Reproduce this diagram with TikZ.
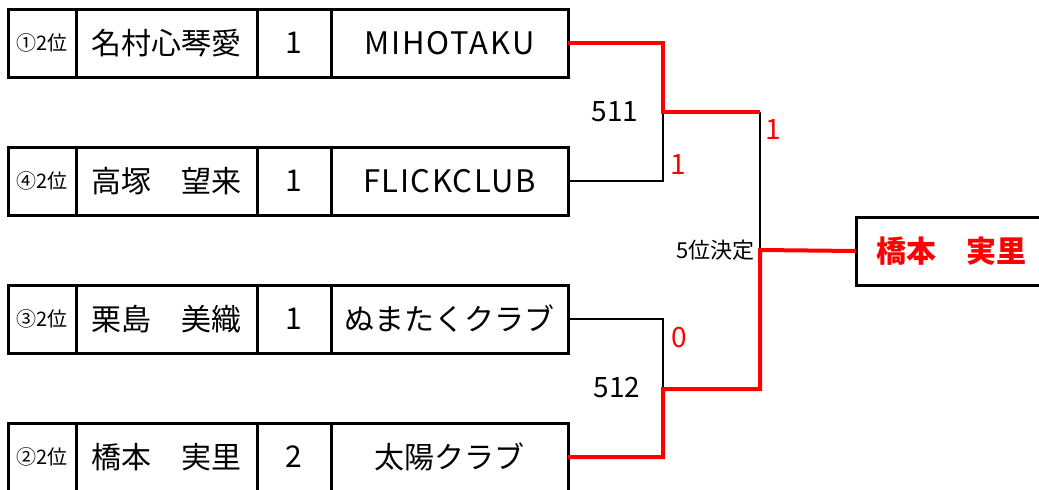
\documentclass[tikz,border=0pt]{standalone}
\usepackage{fontspec}
\setmainfont{Noto Sans CJK JP}
\begin{document}
\begin{tikzpicture}[x=1pt,y=-1pt,
	cell/.style={draw,line width=3pt,inner sep=0pt,outer sep=0pt,minimum height=68pt,font=\fontsize{30}{34}\selectfont},
	win/.style={red,line width=4pt},
	lose/.style={black,line width=2pt},
	lbl/.style={inner sep=0pt,font=\fontsize{28}{32}\selectfont}]
\useasboundingbox (0,0) rectangle (1039,490);
\foreach \i/\y/\seed/\name/\pt/\team in {1/43/①/名村心琴愛/1/\fontsize{31}{34}\selectfont\addfontfeature{LetterSpace=6}MIHOTAKU,2/181/④/高塚　望来/1/\fontsize{31}{34}\selectfont\addfontfeature{LetterSpace=5}FLICKCLUB,3/319/③/栗島　美織/1/ぬまたくクラブ,4/457/②/橋本　実里/2/太陽クラブ}
{
	\node[cell,minimum width=68pt,font=\fontsize{20}{22}\selectfont] at (42,\y) (seed\i) {\seed 2位};
	\node[cell,minimum width=181pt] at (166.5,\y) (name\i) {\name};
	\node[cell,minimum width=74pt] at (294,\y) (pt\i) {\pt};
	\node[cell,minimum width=237pt] at (449.5,\y) (team\i) {\team};
}
\node[cell,minimum width=190pt,text=red,font=\bfseries\fontsize{30}{34}\selectfont] at (951,251) (winner) {橋本　実里};
\coordinate (a1) at (663,112);
\coordinate (c1) at (760,112);
\coordinate (a2) at (663,389);
\coordinate (c2) at (760,389);
\coordinate (b) at (760,250);
\draw[lose] (team2.east) -| (a1);
\draw[lose] (team3.east) -| (a2);
\draw[lose] (c1) -- (b);
\draw[win] (team1.east) -| (a1) -- (c1);
\draw[win] (winner.west) -- (b) -- (c2) -- (a2) |- (team4.east);
\node[lbl] at (615,112) (m511) {511};
\node[lbl] at (617,388) (m512) {512};
\node[lbl,text=red] at (678,165) (s1) {1};
\node[lbl,text=red] at (679,338) (s2) {0};
\node[lbl,text=red] at (773,130) (s3) {1};
\node[lbl,anchor=east,font=\fontsize{22}{24}\selectfont] at (755,250) (m5th) {5位決定};
\end{tikzpicture}
\end{document}
